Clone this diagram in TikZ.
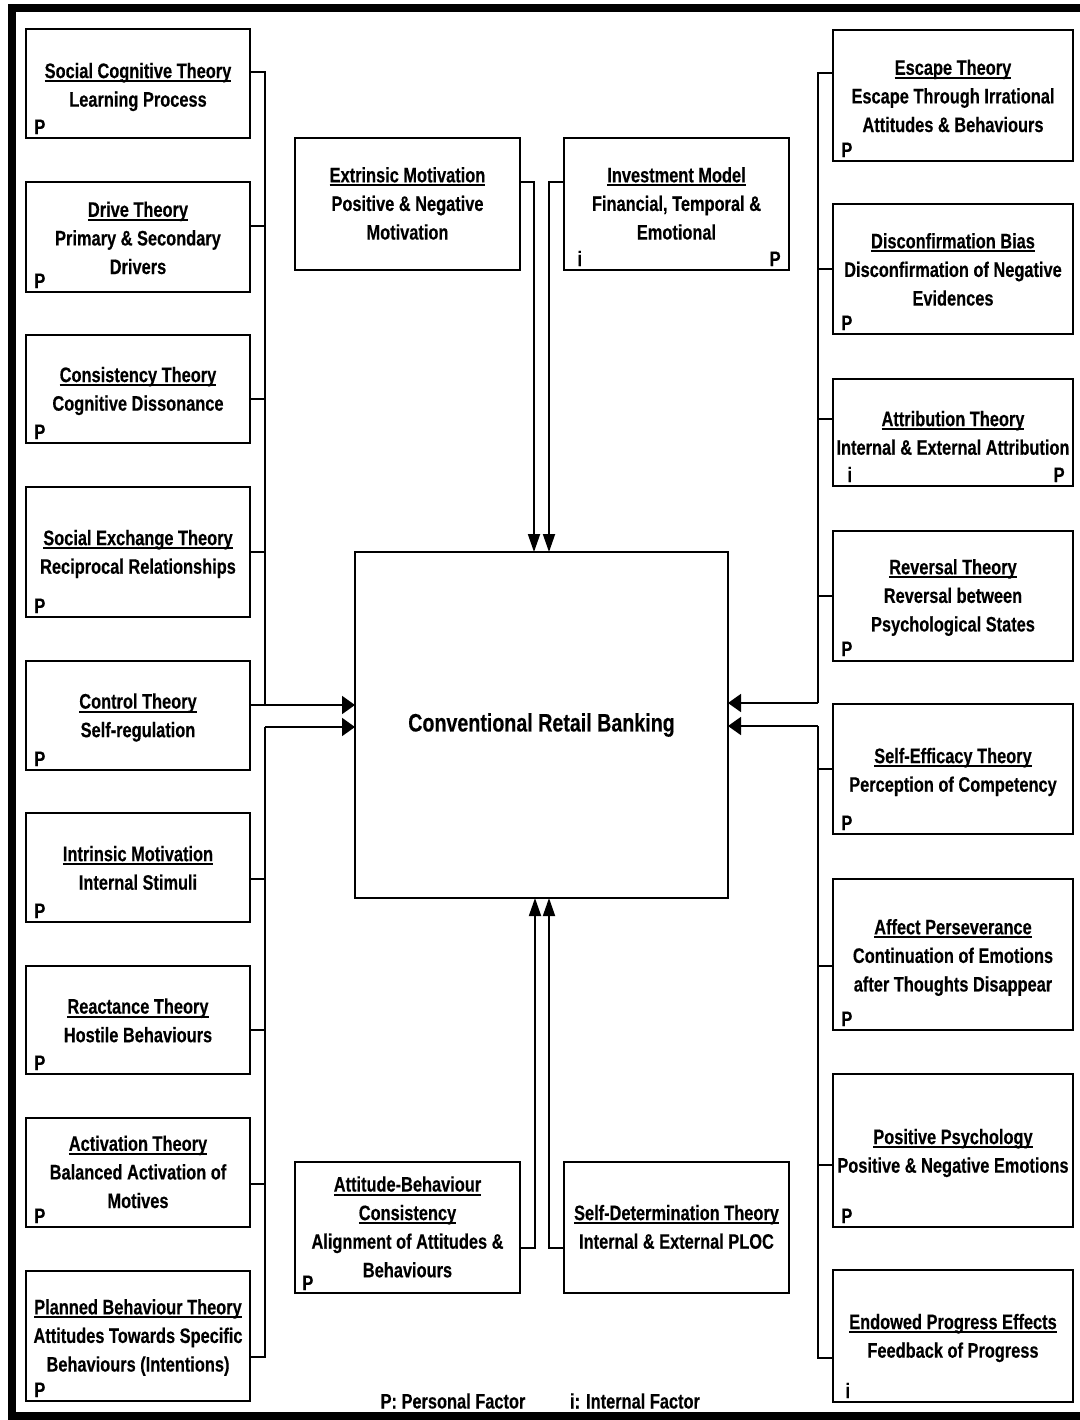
\documentclass[tikz,border=0pt]{standalone}
\usepackage{fontspec}
\setmainfont[FakeStretch=0.78, BoldFeatures={FakeBold=0.35}]{Liberation Sans}
\usetikzlibrary{arrows.meta}

% narrow bold face used for every label
\newcommand\tfont{\fontsize{10.5pt}{14.3pt}\selectfont\bfseries}
% underline sitting just under the baseline
\newcommand\ul[1]{\setbox0\hbox{#1}\rlap{\rule[-2pt]{\wd0}{0.95pt}}\box0}
% theory box from its corners (left, top, right, bottom)
\newcommand\tbox[5]{\node[tbx, minimum width={(#4-#2)*0.5pt}, minimum height={(#5-#3)*0.5pt}] (#1) at ({(#2+#4)/2},{(#3+#5)/2}) {};}

\tikzset{
  tbx/.style={draw, line width=0.95pt, inner sep=0pt, outer sep=0pt},
  ttxt/.style={align=center, font=\tfont, inner sep=0pt, execute at end node={\vphantom{(}}},
  tagl/.style={font=\tfont, inner sep=0pt, anchor=base west},
  tagr/.style={font=\tfont, inner sep=0pt, anchor=base east},
  link/.style={line width=0.9pt},
  harr/.style={line width=0.9pt, -{Triangle[length=6.5pt,width=9pt]}},
  varr/.style={line width=0.9pt, -{Triangle[length=9pt,width=6pt]}},
}

\begin{document}
\begin{tikzpicture}[x=0.5pt,y=-0.5pt]
\useasboundingbox (0,0) rectangle (1080,1420);
\clip (0,0) rectangle (1080,1420);

% outer frame
\draw[line width=4pt] (11.5,8) rectangle (1095,1416);

% central concept
\node[tbx, minimum width={373*0.5pt}, minimum height={346*0.5pt}] (C) at (541.5,725) {};
\node[font=\fontsize{12.6pt}{14pt}\selectfont\bfseries, inner sep=0pt] (Ct) at (C.center) {Conventional Retail Banking};

% ---- left column ----
\tbox{L1}{26}{29}{250}{138}
\node[ttxt] (L1t) at (138,87) {\ul{Social Cognitive Theory}\\Learning Process};
\node[tagl] (L1p) at (34,134) {P};

\tbox{L2}{26}{182}{250}{292}
\node[ttxt] (L2t) at (138,240) {\ul{Drive Theory}\\Primary \& Secondary\\Drivers};
\node[tagl] (L2p) at (34,288) {P};

\tbox{L3}{26}{335}{250}{443}
\node[ttxt] (L3t) at (138,391) {\ul{Consistency Theory}\\Cognitive Dissonance};
\node[tagl] (L3p) at (34,439) {P};

\tbox{L4}{26}{487}{250}{617}
\node[ttxt] (L4t) at (138,554) {\ul{Social Exchange Theory}\\Reciprocal Relationships};
\node[tagl] (L4p) at (34,613) {P};

\tbox{L5}{26}{661}{250}{770}
\node[ttxt] (L5t) at (138,717.5) {\ul{Control Theory}\\Self-regulation};
\node[tagl] (L5p) at (34,766) {P};

\tbox{L6}{26}{813}{250}{922}
\node[ttxt] (L6t) at (138,870) {\ul{Intrinsic Motivation}\\Internal Stimuli};
\node[tagl] (L6p) at (34,918) {P};

\tbox{L7}{26}{966}{250}{1074}
\node[ttxt] (L7t) at (138,1022.5) {\ul{Reactance Theory}\\Hostile Behaviours};
\node[tagl] (L7p) at (34,1070) {P};

\tbox{L8}{26}{1118}{250}{1227}
\node[ttxt] (L8t) at (138,1174) {\ul{Activation Theory}\\Balanced Activation of\\Motives};
\node[tagl] (L8p) at (34,1223) {P};

\tbox{L9}{26}{1271}{250}{1401}
\node[ttxt] (L9t) at (138,1337.5) {\ul{Planned Behaviour Theory}\\Attitudes Towards Specific\\Behaviours (Intentions)};
\node[tagl] (L9p) at (34,1397) {P};

% ---- right column ----
\tbox{R1}{833}{30}{1073}{161}
\node[ttxt] (R1t) at (953,98) {\ul{Escape Theory}\\Escape Through Irrational\\Attitudes \& Behaviours};
\node[tagl] (R1p) at (841,157) {P};

\tbox{R2}{833}{204}{1073}{334}
\node[ttxt] (R2t) at (953,271.5) {\ul{Disconfirmation Bias}\\Disconfirmation of Negative\\Evidences};
\node[tagl] (R2p) at (841,330) {P};

\tbox{R3}{833}{379}{1073}{486}
\node[ttxt] (R3t) at (953,435) {\ul{Attribution Theory}\\Internal \& External Attribution};
\node[tagl] (R3i) at (847,482) {i};
\node[tagr] (R3p) at (1065,482) {P};

\tbox{R4}{833}{531}{1073}{661}
\node[ttxt] (R4t) at (953,597.5) {\ul{Reversal Theory}\\Reversal between\\Psychological States};
\node[tagl] (R4p) at (841,656) {P};

\tbox{R5}{833}{704}{1073}{834}
\node[ttxt] (R5t) at (953,772) {\ul{Self-Efficacy Theory}\\Perception of Competency};
\node[tagl] (R5p) at (841,830) {P};

\tbox{R6}{833}{879}{1073}{1030}
\node[ttxt] (R6t) at (953,957.5) {\ul{Affect Perseverance}\\Continuation of Emotions\\after Thoughts Disappear};
\node[tagl] (R6p) at (841,1026) {P};

\tbox{R7}{833}{1074}{1073}{1227}
\node[ttxt] (R7t) at (953,1153) {\ul{Positive Psychology}\\Positive \& Negative Emotions};
\node[tagl] (R7p) at (841,1223) {P};

\tbox{R8}{833}{1270}{1073}{1402}
\node[ttxt] (R8t) at (953,1338) {\ul{Endowed Progress Effects}\\Feedback of Progress};
\node[tagl] (R8i) at (845,1398) {i};

% ---- top pair ----
\tbox{T1}{295}{138}{520}{270}
\node[ttxt] (T1t) at (407.5,205.5) {\ul{Extrinsic Motivation}\\Positive \& Negative\\Motivation};

\tbox{T2}{564}{138}{789}{270}
\node[ttxt] (T2t) at (676.5,205.5) {\ul{Investment Model}\\Financial, Temporal \&\\Emotional};
\node[tagl] (T2i) at (577,266) {i};
\node[tagr] (T2p) at (781,266) {P};

% ---- bottom pair ----
\tbox{B1}{295}{1162}{520}{1293}
\node[ttxt] (B1t) at (407.5,1229) {\ul{Attitude-Behaviour}\\\ul{Consistency}\\Alignment of Attitudes \&\\Behaviours};
\node[tagl] (B1p) at (302,1290) {P};

\tbox{B2}{564}{1162}{789}{1293}
\node[ttxt] (B2t) at (676.5,1229) {\ul{Self-Determination Theory}\\Internal \& External PLOC};

% legend
\node[font=\tfont, inner sep=0pt] (lg1) at (453,1401) {P: Personal Factor};
\node[font=\tfont, inner sep=0pt] (lg2) at (635,1401) {i: Internal Factor};

% ---- connectors: left bus ----
\coordinate (lju) at (265,705);
\coordinate (ljl) at (265,727);
\draw[link] (L1.east |- 0,72) -| (lju);
\draw[link] (L2.east |- 0,226) -- (lju |- 0,226);
\draw[link] (L3.east |- 0,399) -- (lju |- 0,399);
\draw[link] (L4.east |- 0,552) -- (lju |- 0,552);
\draw[harr] (L5.east |- lju) -- (C.west |- lju);
\draw[link] (L9.east |- 0,1357) -| (ljl);
\draw[link] (L6.east |- 0,879) -- (ljl |- 0,879);
\draw[link] (L7.east |- 0,1030) -- (ljl |- 0,1030);
\draw[link] (L8.east |- 0,1184) -- (ljl |- 0,1184);
\draw[harr] (ljl) -- (C.west |- ljl);

% ---- connectors: right bus ----
\coordinate (rju) at (818,703);
\coordinate (rjl) at (818,726);
\draw[link] (R1.west |- 0,73) -| (rju);
\draw[link] (R2.west |- 0,269) -- (rju |- 0,269);
\draw[link] (R3.west |- 0,419) -- (rju |- 0,419);
\draw[link] (R4.west |- 0,596) -- (rju |- 0,596);
\draw[harr] (rju) -- (C.east |- rju);
\draw[link] (R8.west |- 0,1358) -| (rjl);
\draw[link] (R5.west |- 0,769) -- (rjl |- 0,769);
\draw[link] (R6.west |- 0,966) -- (rjl |- 0,966);
\draw[link] (R7.west |- 0,1165) -- (rjl |- 0,1165);
\draw[harr] (rjl) -- (C.east |- rjl);

% ---- connectors: top and bottom ----
\coordinate (tj1) at (534,182);
\coordinate (tj2) at (549,182);
\draw[varr] (T1.east |- tj1) -| (C.north -| tj1);
\draw[varr] (T2.west |- tj2) -| (C.north -| tj2);
\coordinate (bj1) at (535,1248);
\coordinate (bj2) at (549,1248);
\draw[varr] (B1.east |- bj1) -| (C.south -| bj1);
\draw[varr] (B2.west |- bj2) -| (C.south -| bj2);
\end{tikzpicture}
\end{document}
